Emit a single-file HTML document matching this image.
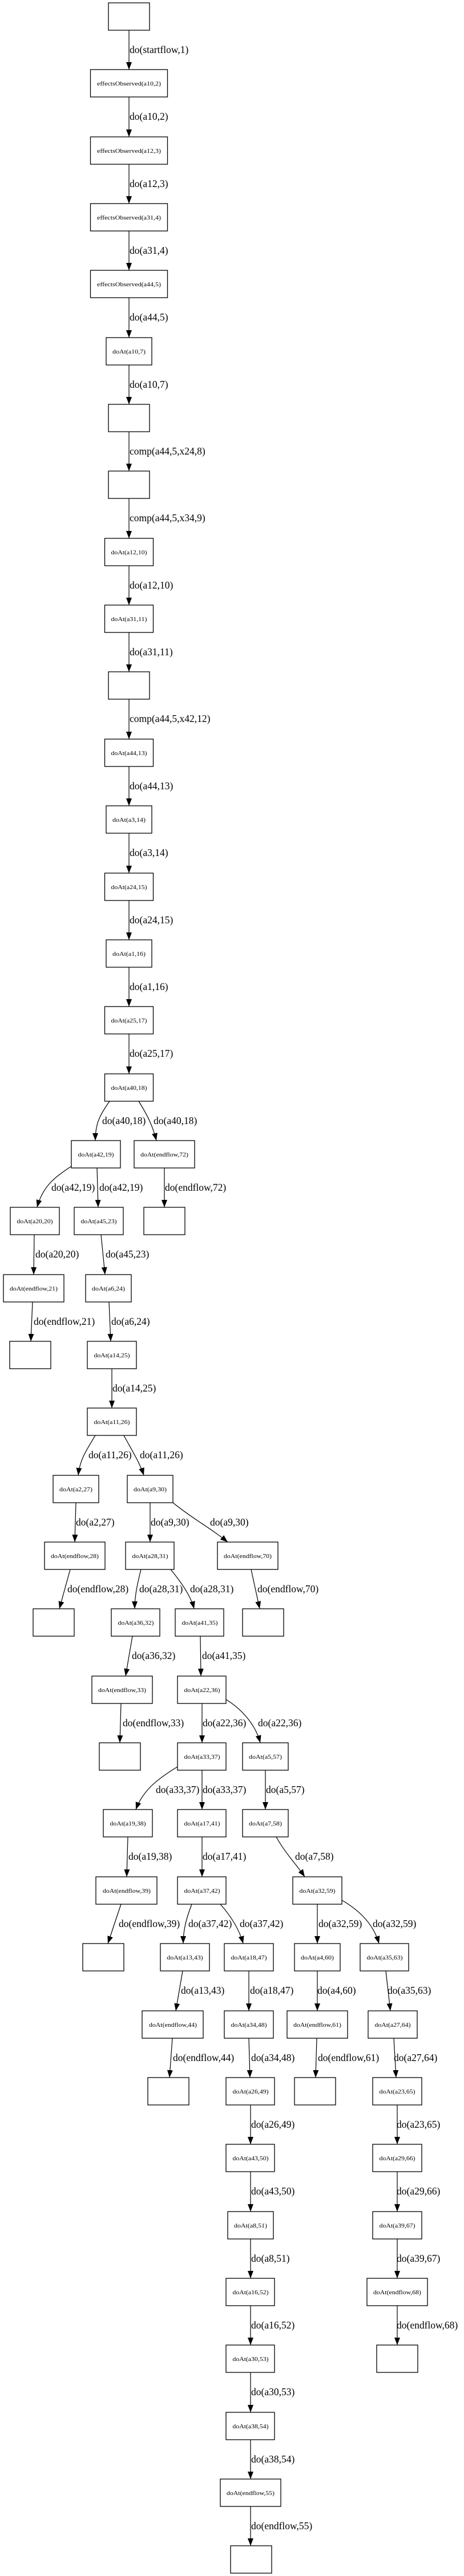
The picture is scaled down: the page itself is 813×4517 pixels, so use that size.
<!DOCTYPE html>
<html><head><meta charset="utf-8"><style>
html,body{margin:0;padding:0;background:#fff}
svg{display:block}
.n{fill:#fff;stroke:#000;stroke-width:1.3}
.e{fill:none;stroke:#000;stroke-width:1.2}
.t{font-family:"Liberation Serif",serif;font-size:11px;text-anchor:middle}
.l{font-family:"Liberation Serif",serif;font-size:17.5px}
</style></head><body>
<svg width="813" height="4517" viewBox="0 0 813 4517" xmlns="http://www.w3.org/2000/svg">
<defs><marker id="a" markerUnits="userSpaceOnUse" markerWidth="13" markerHeight="10" viewBox="0 0 13 10" refX="13" refY="5" orient="auto"><path d="M0,0 L13,5 L0,10 z" fill="#000"/></marker></defs>
<g class="e" marker-end="url(#a)">
<path d="M226 53V122" marker-end="url(#a)"/>
<path d="M226 170V240" marker-end="url(#a)"/>
<path d="M226 288V357" marker-end="url(#a)"/>
<path d="M226 405V474" marker-end="url(#a)"/>
<path d="M226 522V592" marker-end="url(#a)"/>
<path d="M226 640V709" marker-end="url(#a)"/>
<path d="M226 757V826" marker-end="url(#a)"/>
<path d="M226 874V944" marker-end="url(#a)"/>
<path d="M226 992V1061" marker-end="url(#a)"/>
<path d="M226 1109V1178" marker-end="url(#a)"/>
<path d="M226 1226V1296" marker-end="url(#a)"/>
<path d="M226 1344V1413" marker-end="url(#a)"/>
<path d="M226 1461V1531" marker-end="url(#a)"/>
<path d="M226 1579V1648" marker-end="url(#a)"/>
<path d="M226 1696V1765" marker-end="url(#a)"/>
<path d="M226 1813V1883" marker-end="url(#a)"/>
<path d="M192 1931C175 1955 167 1970 167 2000" marker-end="url(#a)"/>
<path d="M243 1931C258 1955 268 1975 274 2000" marker-end="url(#a)"/>
<path d="M125 2045C95 2065 75 2080 65 2117" marker-end="url(#a)"/>
<path d="M170 2048L172 2117" marker-end="url(#a)"/>
<path d="M288 2048V2117" marker-end="url(#a)"/>
<path d="M60 2165L59 2235" marker-end="url(#a)"/>
<path d="M177 2165L184 2235" marker-end="url(#a)"/>
<path d="M57 2283L54 2352" marker-end="url(#a)"/>
<path d="M191 2283L194 2352" marker-end="url(#a)"/>
<path d="M196 2400V2469" marker-end="url(#a)"/>
<path d="M167 2517C150 2545 140 2560 137 2587" marker-end="url(#a)"/>
<path d="M217 2517C232 2545 245 2565 252 2587" marker-end="url(#a)"/>
<path d="M133 2635L131 2704" marker-end="url(#a)"/>
<path d="M263 2635V2704" marker-end="url(#a)"/>
<path d="M303 2635C340 2665 370 2680 399 2704" marker-end="url(#a)"/>
<path d="M123 2752L104 2821" marker-end="url(#a)"/>
<path d="M247 2752C240 2780 236 2800 236 2821" marker-end="url(#a)"/>
<path d="M299 2752C318 2775 335 2800 340 2821" marker-end="url(#a)"/>
<path d="M440 2752L455 2821" marker-end="url(#a)"/>
<path d="M232 2869L220 2939" marker-end="url(#a)"/>
<path d="M351 2869L352 2939" marker-end="url(#a)"/>
<path d="M212 2987L210 3056" marker-end="url(#a)"/>
<path d="M354 2987V3056" marker-end="url(#a)"/>
<path d="M396 2980C425 2998 448 3025 456 3056" marker-end="url(#a)"/>
<path d="M311 3098C275 3120 250 3140 238 3173" marker-end="url(#a)"/>
<path d="M354 3104V3173" marker-end="url(#a)"/>
<path d="M465 3104V3173" marker-end="url(#a)"/>
<path d="M224 3221L222 3291" marker-end="url(#a)"/>
<path d="M354 3221V3291" marker-end="url(#a)"/>
<path d="M484 3221C500 3250 520 3270 534 3291" marker-end="url(#a)"/>
<path d="M212 3339L189 3408" marker-end="url(#a)"/>
<path d="M336 3339C326 3365 321 3385 321 3408" marker-end="url(#a)"/>
<path d="M386 3339C405 3360 420 3385 426 3408" marker-end="url(#a)"/>
<path d="M556 3339V3408" marker-end="url(#a)"/>
<path d="M599 3332C630 3350 655 3375 664 3408" marker-end="url(#a)"/>
<path d="M320 3456L308 3526" marker-end="url(#a)"/>
<path d="M436 3456V3526" marker-end="url(#a)"/>
<path d="M556 3456V3526" marker-end="url(#a)"/>
<path d="M676 3456L684 3526" marker-end="url(#a)"/>
<path d="M302 3574L297 3643" marker-end="url(#a)"/>
<path d="M436 3574L438 3643" marker-end="url(#a)"/>
<path d="M555 3574L553 3643" marker-end="url(#a)"/>
<path d="M690 3574L694 3643" marker-end="url(#a)"/>
<path d="M439 3691V3760" marker-end="url(#a)"/>
<path d="M696 3691V3760" marker-end="url(#a)"/>
<path d="M439 3808V3878" marker-end="url(#a)"/>
<path d="M696 3808V3878" marker-end="url(#a)"/>
<path d="M439 3926V3995" marker-end="url(#a)"/>
<path d="M696 3926V3995" marker-end="url(#a)"/>
<path d="M439 4043V4112" marker-end="url(#a)"/>
<path d="M696 4043V4112" marker-end="url(#a)"/>
<path d="M439 4160V4230" marker-end="url(#a)"/>
<path d="M439 4278V4347" marker-end="url(#a)"/>
<path d="M439 4395V4464" marker-end="url(#a)"/>
</g>
<g>
<rect class="n" x="190" y="5" width="72" height="48"/>
<rect class="n" x="158.5" y="122" width="135" height="48"/><text class="t" x="226" y="150" textLength="112" lengthAdjust="spacingAndGlyphs">effectsObserved(a10,2)</text>
<rect class="n" x="158.5" y="240" width="135" height="48"/><text class="t" x="226" y="268" textLength="112" lengthAdjust="spacingAndGlyphs">effectsObserved(a12,3)</text>
<rect class="n" x="158.5" y="357" width="135" height="48"/><text class="t" x="226" y="385" textLength="112" lengthAdjust="spacingAndGlyphs">effectsObserved(a31,4)</text>
<rect class="n" x="158.5" y="474" width="135" height="48"/><text class="t" x="226" y="502" textLength="112" lengthAdjust="spacingAndGlyphs">effectsObserved(a44,5)</text>
<rect class="n" x="186" y="592" width="80" height="48"/><text class="t" x="226" y="620" textLength="58" lengthAdjust="spacingAndGlyphs">doAt(a10,7)</text>
<rect class="n" x="190" y="709" width="72" height="48"/>
<rect class="n" x="190" y="826" width="72" height="48"/>
<rect class="n" x="183.5" y="944" width="85" height="48"/><text class="t" x="226" y="972" textLength="63" lengthAdjust="spacingAndGlyphs">doAt(a12,10)</text>
<rect class="n" x="183.5" y="1061" width="85" height="48"/><text class="t" x="226" y="1089" textLength="63" lengthAdjust="spacingAndGlyphs">doAt(a31,11)</text>
<rect class="n" x="190" y="1178" width="72" height="48"/>
<rect class="n" x="183.5" y="1296" width="85" height="48"/><text class="t" x="226" y="1324" textLength="63" lengthAdjust="spacingAndGlyphs">doAt(a44,13)</text>
<rect class="n" x="186" y="1413" width="80" height="48"/><text class="t" x="226" y="1441" textLength="58" lengthAdjust="spacingAndGlyphs">doAt(a3,14)</text>
<rect class="n" x="183.5" y="1531" width="85" height="48"/><text class="t" x="226" y="1559" textLength="63" lengthAdjust="spacingAndGlyphs">doAt(a24,15)</text>
<rect class="n" x="186" y="1648" width="80" height="48"/><text class="t" x="226" y="1676" textLength="58" lengthAdjust="spacingAndGlyphs">doAt(a1,16)</text>
<rect class="n" x="183.5" y="1765" width="85" height="48"/><text class="t" x="226" y="1793" textLength="63" lengthAdjust="spacingAndGlyphs">doAt(a25,17)</text>
<rect class="n" x="183.5" y="1883" width="85" height="48"/><text class="t" x="226" y="1911" textLength="63" lengthAdjust="spacingAndGlyphs">doAt(a40,18)</text>
<rect class="n" x="125" y="2000" width="86" height="48"/><text class="t" x="168" y="2028" textLength="63" lengthAdjust="spacingAndGlyphs">doAt(a42,19)</text>
<rect class="n" x="235" y="2000" width="106" height="48"/><text class="t" x="288" y="2028" textLength="84" lengthAdjust="spacingAndGlyphs">doAt(endflow,72)</text>
<rect class="n" x="18" y="2117" width="86" height="48"/><text class="t" x="61" y="2145" textLength="63" lengthAdjust="spacingAndGlyphs">doAt(a20,20)</text>
<rect class="n" x="130" y="2117" width="86" height="48"/><text class="t" x="173" y="2145" textLength="63" lengthAdjust="spacingAndGlyphs">doAt(a45,23)</text>
<rect class="n" x="252" y="2117" width="72" height="48"/>
<rect class="n" x="6" y="2235" width="106" height="48"/><text class="t" x="59" y="2263" textLength="84" lengthAdjust="spacingAndGlyphs">doAt(endflow,21)</text>
<rect class="n" x="150" y="2235" width="80" height="48"/><text class="t" x="190" y="2263" textLength="58" lengthAdjust="spacingAndGlyphs">doAt(a6,24)</text>
<rect class="n" x="17" y="2352" width="72" height="48"/>
<rect class="n" x="153" y="2352" width="86" height="48"/><text class="t" x="196" y="2380" textLength="63" lengthAdjust="spacingAndGlyphs">doAt(a14,25)</text>
<rect class="n" x="153" y="2469" width="86" height="48"/><text class="t" x="196" y="2497" textLength="63" lengthAdjust="spacingAndGlyphs">doAt(a11,26)</text>
<rect class="n" x="93" y="2587" width="80" height="48"/><text class="t" x="133" y="2615" textLength="58" lengthAdjust="spacingAndGlyphs">doAt(a2,27)</text>
<rect class="n" x="223" y="2587" width="80" height="48"/><text class="t" x="263" y="2615" textLength="58" lengthAdjust="spacingAndGlyphs">doAt(a9,30)</text>
<rect class="n" x="78" y="2704" width="106" height="48"/><text class="t" x="131" y="2732" textLength="84" lengthAdjust="spacingAndGlyphs">doAt(endflow,28)</text>
<rect class="n" x="220" y="2704" width="85" height="48"/><text class="t" x="263" y="2732" textLength="63" lengthAdjust="spacingAndGlyphs">doAt(a28,31)</text>
<rect class="n" x="381" y="2704" width="106" height="48"/><text class="t" x="434" y="2732" textLength="84" lengthAdjust="spacingAndGlyphs">doAt(endflow,70)</text>
<rect class="n" x="58" y="2821" width="72" height="48"/>
<rect class="n" x="195" y="2821" width="85" height="48"/><text class="t" x="238" y="2849" textLength="63" lengthAdjust="spacingAndGlyphs">doAt(a36,32)</text>
<rect class="n" x="307" y="2821" width="85" height="48"/><text class="t" x="350" y="2849" textLength="63" lengthAdjust="spacingAndGlyphs">doAt(a41,35)</text>
<rect class="n" x="425" y="2821" width="72" height="48"/>
<rect class="n" x="161" y="2939" width="106" height="48"/><text class="t" x="214" y="2967" textLength="84" lengthAdjust="spacingAndGlyphs">doAt(endflow,33)</text>
<rect class="n" x="311" y="2939" width="85" height="48"/><text class="t" x="354" y="2967" textLength="63" lengthAdjust="spacingAndGlyphs">doAt(a22,36)</text>
<rect class="n" x="174" y="3056" width="72" height="48"/>
<rect class="n" x="311" y="3056" width="85" height="48"/><text class="t" x="354" y="3084" textLength="63" lengthAdjust="spacingAndGlyphs">doAt(a33,37)</text>
<rect class="n" x="425" y="3056" width="80" height="48"/><text class="t" x="465" y="3084" textLength="58" lengthAdjust="spacingAndGlyphs">doAt(a5,57)</text>
<rect class="n" x="181" y="3173" width="86" height="48"/><text class="t" x="224" y="3201" textLength="63" lengthAdjust="spacingAndGlyphs">doAt(a19,38)</text>
<rect class="n" x="311" y="3173" width="85" height="48"/><text class="t" x="354" y="3201" textLength="63" lengthAdjust="spacingAndGlyphs">doAt(a17,41)</text>
<rect class="n" x="425" y="3173" width="80" height="48"/><text class="t" x="465" y="3201" textLength="58" lengthAdjust="spacingAndGlyphs">doAt(a7,58)</text>
<rect class="n" x="168" y="3291" width="107" height="48"/><text class="t" x="222" y="3319" textLength="84" lengthAdjust="spacingAndGlyphs">doAt(endflow,39)</text>
<rect class="n" x="311" y="3291" width="85" height="48"/><text class="t" x="354" y="3319" textLength="63" lengthAdjust="spacingAndGlyphs">doAt(a37,42)</text>
<rect class="n" x="513" y="3291" width="86" height="48"/><text class="t" x="556" y="3319" textLength="63" lengthAdjust="spacingAndGlyphs">doAt(a32,59)</text>
<rect class="n" x="145" y="3408" width="72" height="48"/>
<rect class="n" x="281" y="3408" width="86" height="48"/><text class="t" x="324" y="3436" textLength="63" lengthAdjust="spacingAndGlyphs">doAt(a13,43)</text>
<rect class="n" x="393" y="3408" width="86" height="48"/><text class="t" x="436" y="3436" textLength="63" lengthAdjust="spacingAndGlyphs">doAt(a18,47)</text>
<rect class="n" x="516" y="3408" width="80" height="48"/><text class="t" x="556" y="3436" textLength="58" lengthAdjust="spacingAndGlyphs">doAt(a4,60)</text>
<rect class="n" x="631" y="3408" width="85" height="48"/><text class="t" x="674" y="3436" textLength="63" lengthAdjust="spacingAndGlyphs">doAt(a35,63)</text>
<rect class="n" x="249" y="3526" width="107" height="48"/><text class="t" x="303" y="3554" textLength="84" lengthAdjust="spacingAndGlyphs">doAt(endflow,44)</text>
<rect class="n" x="393" y="3526" width="86" height="48"/><text class="t" x="436" y="3554" textLength="63" lengthAdjust="spacingAndGlyphs">doAt(a34,48)</text>
<rect class="n" x="503" y="3526" width="106" height="48"/><text class="t" x="556" y="3554" textLength="84" lengthAdjust="spacingAndGlyphs">doAt(endflow,61)</text>
<rect class="n" x="645" y="3526" width="86" height="48"/><text class="t" x="688" y="3554" textLength="63" lengthAdjust="spacingAndGlyphs">doAt(a27,64)</text>
<rect class="n" x="259" y="3643" width="72" height="48"/>
<rect class="n" x="396" y="3643" width="85" height="48"/><text class="t" x="439" y="3671" textLength="63" lengthAdjust="spacingAndGlyphs">doAt(a26,49)</text>
<rect class="n" x="516" y="3643" width="72" height="48"/>
<rect class="n" x="653" y="3643" width="86" height="48"/><text class="t" x="696" y="3671" textLength="63" lengthAdjust="spacingAndGlyphs">doAt(a23,65)</text>
<rect class="n" x="396" y="3760" width="85" height="48"/><text class="t" x="439" y="3788" textLength="63" lengthAdjust="spacingAndGlyphs">doAt(a43,50)</text>
<rect class="n" x="653" y="3760" width="86" height="48"/><text class="t" x="696" y="3788" textLength="63" lengthAdjust="spacingAndGlyphs">doAt(a29,66)</text>
<rect class="n" x="399" y="3878" width="80" height="48"/><text class="t" x="439" y="3906" textLength="58" lengthAdjust="spacingAndGlyphs">doAt(a8,51)</text>
<rect class="n" x="653" y="3878" width="86" height="48"/><text class="t" x="696" y="3906" textLength="63" lengthAdjust="spacingAndGlyphs">doAt(a39,67)</text>
<rect class="n" x="396" y="3995" width="85" height="48"/><text class="t" x="439" y="4023" textLength="63" lengthAdjust="spacingAndGlyphs">doAt(a16,52)</text>
<rect class="n" x="643" y="3995" width="106" height="48"/><text class="t" x="696" y="4023" textLength="84" lengthAdjust="spacingAndGlyphs">doAt(endflow,68)</text>
<rect class="n" x="396" y="4112" width="85" height="48"/><text class="t" x="439" y="4140" textLength="63" lengthAdjust="spacingAndGlyphs">doAt(a30,53)</text>
<rect class="n" x="660" y="4112" width="72" height="48"/>
<rect class="n" x="396" y="4230" width="85" height="48"/><text class="t" x="439" y="4258" textLength="63" lengthAdjust="spacingAndGlyphs">doAt(a38,54)</text>
<rect class="n" x="386" y="4347" width="106" height="48"/><text class="t" x="439" y="4375" textLength="84" lengthAdjust="spacingAndGlyphs">doAt(endflow,55)</text>
<rect class="n" x="404" y="4464" width="72" height="48"/>
</g>
<g class="l">
<text x="227" y="93">do(startflow,1)</text>
<text x="227" y="210">do(a10,2)</text>
<text x="227" y="328">do(a12,3)</text>
<text x="227" y="445">do(a31,4)</text>
<text x="227" y="562">do(a44,5)</text>
<text x="227" y="680">do(a10,7)</text>
<text x="227" y="797">comp(a44,5,x24,8)</text>
<text x="227" y="914">comp(a44,5,x34,9)</text>
<text x="227" y="1032">do(a12,10)</text>
<text x="227" y="1149">do(a31,11)</text>
<text x="227" y="1266">comp(a44,5,x42,12)</text>
<text x="227" y="1384">do(a44,13)</text>
<text x="227" y="1501">do(a3,14)</text>
<text x="227" y="1619">do(a24,15)</text>
<text x="227" y="1736">do(a1,16)</text>
<text x="227" y="1853">do(a25,17)</text>
<text x="179" y="1971">do(a40,18)</text>
<text x="269" y="1971">do(a40,18)</text>
<text x="90" y="2088">do(a42,19)</text>
<text x="174" y="2088">do(a42,19)</text>
<text x="289" y="2088">do(endflow,72)</text>
<text x="62" y="2205">do(a20,20)</text>
<text x="185" y="2205">do(a45,23)</text>
<text x="59" y="2323">do(endflow,21)</text>
<text x="195" y="2323">do(a6,24)</text>
<text x="197" y="2440">do(a14,25)</text>
<text x="155" y="2557">do(a11,26)</text>
<text x="245" y="2557">do(a11,26)</text>
<text x="133" y="2675">do(a2,27)</text>
<text x="264" y="2675">do(a9,30)</text>
<text x="368" y="2675">do(a9,30)</text>
<text x="118" y="2792">do(endflow,28)</text>
<text x="244" y="2792">do(a28,31)</text>
<text x="333" y="2792">do(a28,31)</text>
<text x="451" y="2792">do(endflow,70)</text>
<text x="231" y="2909">do(a36,32)</text>
<text x="354" y="2909">do(a41,35)</text>
<text x="215" y="3027">do(endflow,33)</text>
<text x="355" y="3027">do(a22,36)</text>
<text x="452" y="3027">do(a22,36)</text>
<text x="273" y="3144">do(a33,37)</text>
<text x="355" y="3144">do(a33,37)</text>
<text x="466" y="3144">do(a5,57)</text>
<text x="225" y="3261">do(a19,38)</text>
<text x="355" y="3261">do(a17,41)</text>
<text x="517" y="3261">do(a7,58)</text>
<text x="208" y="3379">do(endflow,39)</text>
<text x="330" y="3379">do(a37,42)</text>
<text x="420" y="3379">do(a37,42)</text>
<text x="558" y="3379">do(a32,59)</text>
<text x="653" y="3379">do(a32,59)</text>
<text x="317" y="3496">do(a13,43)</text>
<text x="438" y="3496">do(a18,47)</text>
<text x="556" y="3496">do(a4,60)</text>
<text x="679" y="3496">do(a35,63)</text>
<text x="303" y="3614">do(endflow,44)</text>
<text x="440" y="3614">do(a34,48)</text>
<text x="557" y="3614">do(endflow,61)</text>
<text x="690" y="3614">do(a27,64)</text>
<text x="440" y="3731">do(a26,49)</text>
<text x="695" y="3731">do(a23,65)</text>
<text x="440" y="3848">do(a43,50)</text>
<text x="695" y="3848">do(a29,66)</text>
<text x="440" y="3966">do(a8,51)</text>
<text x="695" y="3966">do(a39,67)</text>
<text x="440" y="4083">do(a16,52)</text>
<text x="695" y="4083">do(endflow,68)</text>
<text x="440" y="4200">do(a30,53)</text>
<text x="440" y="4318">do(a38,54)</text>
<text x="440" y="4435">do(endflow,55)</text>
</g>
</svg>
</body></html>
